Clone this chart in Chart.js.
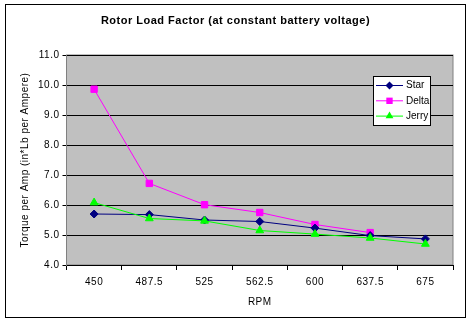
<!DOCTYPE html>
<html>
<head>
<meta charset="utf-8">
<script src="https://cdn.jsdelivr.net/npm/chart.js@4/dist/chart.umd.min.js"></script>
<style>
  html, body { margin: 0; padding: 0; background: #fff; }
</style>
</head>
<body>
<canvas id="rotorChart" width="471" height="323"></canvas>
<script>
// values
const rpmLabels = ["450", "487.5", "525", "562.5", "600", "637.5", "675"];
const starValues = [5.70, 5.68, 5.50, 5.45, 5.23, 4.98, 4.87];
const deltaValues = [9.86, 6.72, 6.01, 5.75, 5.35, 5.08, null];
const jerryValues = [6.08, 5.55, 5.47, 5.15, 5.03, 4.90, 4.70];
const yTickValues = [4, 5, 6, 7, 8, 9, 10, 11];

const FONT = "'Liberation Sans', Arial, sans-serif";

function drawMarker(ctx, style, color, x, y, r) {
    ctx.save();
    ctx.fillStyle = color;
    ctx.beginPath();
    if (style === "rectRot") {
        ctx.moveTo(x, y - r); ctx.lineTo(x + r, y); ctx.lineTo(x, y + r); ctx.lineTo(x - r, y);
    } else if (style === "rect") {
        const s = r * Math.SQRT1_2;
        ctx.rect(x - s, y - s, 2 * s, 2 * s);
    } else {
        ctx.moveTo(x, y - r); ctx.lineTo(x + r * 0.87, y + r * 0.5); ctx.lineTo(x - r * 0.87, y + r * 0.5);
    }
    ctx.closePath();
    ctx.fill();
    ctx.restore();
}

// white page with frame and grey plot area
const framePlugin = {
    id: "frame",
    beforeDraw(chart) {
        const ctx = chart.ctx;
        const a = chart.chartArea;
        ctx.save();
        ctx.fillStyle = "#fff";
        ctx.fillRect(0, 0, chart.width, chart.height);
        ctx.strokeStyle = "#000";
        ctx.lineWidth = 1;
        ctx.strokeRect(5.5, 4.5, 460, 313);
        ctx.fillStyle = "#c0c0c0";
        ctx.fillRect(a.left, a.top, a.right - a.left, a.bottom - a.top);
        ctx.strokeStyle = "#808080";
        ctx.strokeRect(a.left, a.top, a.right - a.left, a.bottom - a.top);
        ctx.restore();
        // old excel text is a bit spread out
        ctx.letterSpacing = "0.5px";
    }
};

// legend box inside the plot area
const boxLegend = {
    id: "boxLegend",
    afterDraw(chart) {
        const ctx = chart.ctx;
        const x = 373.5, y = 76.5, w = 57, h = 49;
        ctx.save();
        ctx.letterSpacing = "0px";
        ctx.fillStyle = "#fff";
        ctx.fillRect(x, y, w, h);
        ctx.strokeStyle = "#000";
        ctx.lineWidth = 1;
        ctx.strokeRect(x, y, w, h);
        ctx.font = "10px " + FONT;
        ctx.textBaseline = "middle";
        chart.data.datasets.forEach((ds, i) => {
            const ry = 85.5 + i * 15.3;
            ctx.strokeStyle = ds.borderColor;
            ctx.beginPath();
            ctx.moveTo(376, ry);
            ctx.lineTo(403, ry);
            ctx.stroke();
            drawMarker(ctx, ds.pointStyle, ds.borderColor, 389.5, ry, ds.pointRadius);
            ctx.fillStyle = "#000";
            ctx.fillText(ds.label, 406, ry);
        });
        ctx.restore();
    }
};

const ctx = document.getElementById("rotorChart").getContext("2d");

new Chart(ctx, {
    type: "line",
    data: {
        labels: rpmLabels,
        datasets: [
            {
                label: "Star",
                data: starValues,
                borderColor: "#000080",
                backgroundColor: "#000080",
                borderWidth: 1,
                pointStyle: "rectRot",
                pointRadius: 4,
                tension: 0,
                order: 2
            },
            {
                label: "Delta",
                data: deltaValues,
                borderColor: "#ff00ff",
                backgroundColor: "#ff00ff",
                borderWidth: 1,
                pointStyle: "rect",
                pointRadius: 4.5,
                tension: 0,
                order: 3
            },
            {
                label: "Jerry",
                data: jerryValues,
                borderColor: "#00ff00",
                backgroundColor: "#00ff00",
                borderWidth: 1,
                pointStyle: "triangle",
                pointRadius: 4.5,
                tension: 0,
                order: 1
            }
        ]
    },
    options: {
        responsive: false,
        animation: false,
        devicePixelRatio: 1,
        layout: { padding: 0 },
        plugins: {
            legend: { display: false },
            tooltip: { enabled: false },
            title: {
                display: true,
                text: "Rotor Load Factor (at constant battery voltage)",
                color: "#000",
                font: { family: FONT, size: 11, weight: "bold" },
                padding: { top: 14, bottom: 27.8 }
            }
        },
        scales: {
            x: {
                offset: true,
                afterFit(scale) { scale.height = 58; },
                grid: {
                    offset: true,
                    drawOnChartArea: false,
                    drawTicks: true,
                    tickLength: 5,
                    color: "#000"
                },
                border: { display: true, color: "#000" },
                ticks: { color: "#000", font: { family: FONT, size: 10 }, padding: 6, maxRotation: 0 },
                title: {
                    display: true,
                    text: "RPM",
                    color: "#000",
                    font: { family: FONT, size: 10 },
                    padding: { top: 0, bottom: 15 }
                }
            },
            y: {
                min: 4,
                max: 11,
                afterFit(scale) { scale.width = 66.5; },
                afterBuildTicks(scale) { scale.ticks = yTickValues.map(v => ({ value: v })); },
                grid: { color: "#000", tickLength: 4, lineWidth: 1 },
                border: { display: true, color: "#808080" },
                ticks: {
                    color: "#000",
                    font: { family: FONT, size: 10 },
                    padding: 3,
                    callback: v => Number(v).toFixed(1)
                },
                title: {
                    display: true,
                    text: "Torque per Amp (in*Lb per Ampere)",
                    color: "#000",
                    font: { family: FONT, size: 10 },
                    padding: { top: 19, bottom: 0 }
                }
            },
            // empty strip on the right so the plot ends where the reference does
            yRight: {
                type: "linear",
                position: "right",
                display: true,
                afterFit(scale) { scale.width = 18; },
                grid: { display: false },
                border: { display: false },
                ticks: { display: false }
            }
        }
    },
    plugins: [framePlugin, boxLegend]
});
</script>
</body>
</html>
